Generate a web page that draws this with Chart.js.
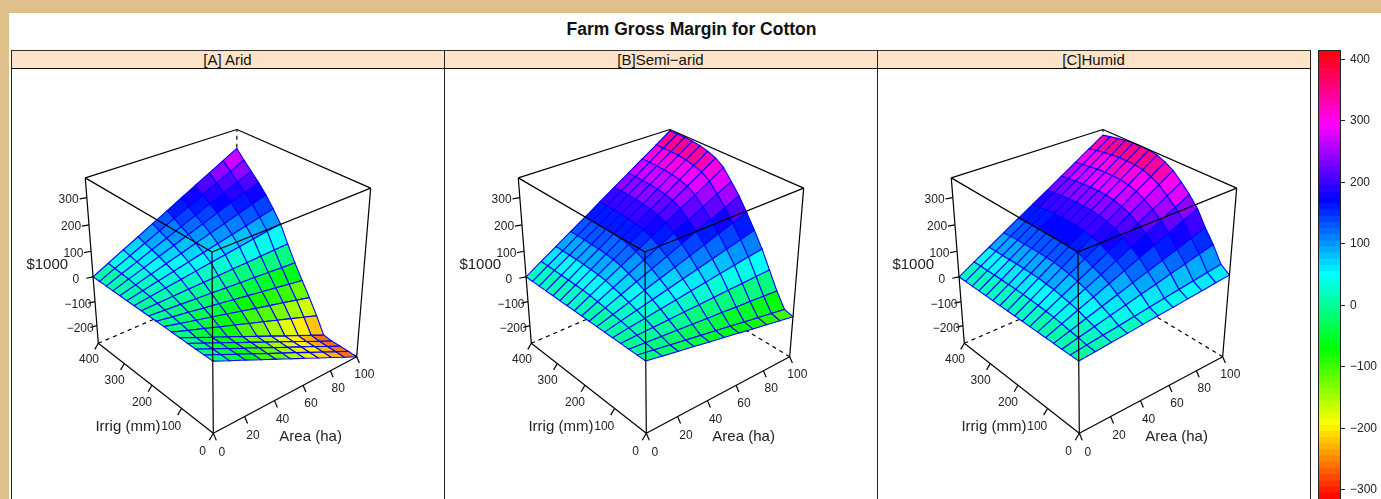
<!DOCTYPE html>
<html>
<head>
<meta charset="utf-8">
<title>Farm Gross Margin for Cotton</title>
<script src="https://cdn.jsdelivr.net/npm/chart.js@4"></script>
<style>
  html, body { margin: 0; padding: 0; width: 1381px; height: 499px; overflow: hidden; background: #dfc08a; }
  body { position: relative; font-family: "Liberation Sans", Arial, sans-serif; color: #111; }
  #sheet { position: absolute; left: 9px; top: 13px; width: 1372px; height: 486px; background: #fff; }
  #title { position: absolute; left: 0; top: 20px; width: 1383px; text-align: center; font-size: 17.5px; line-height: 18px; font-weight: bold; }
  .strip { position: absolute; top: 50px; height: 17px; width: 433px; box-sizing: content-box; background: #fde3c8; border-top: 1px solid #333; border-bottom: 1px solid #111; text-align: center; font-size: 15px; line-height: 18px; }
  .edge { position: absolute; top: 50px; width: 1px; height: 449px; background: #222; }
  canvas { position: absolute; }
</style>
</head>
<body>
<div id="sheet"></div>
<div id="title">Farm Gross Margin for Cotton</div>
<div class="strip" style="left:11px">[A] Arid</div>
<div class="strip" style="left:444px">[B]Semi−arid</div>
<div class="strip" style="left:877px">[C]Humid</div>
<div class="edge" style="left:11px"></div>
<div class="edge" style="left:444px"></div>
<div class="edge" style="left:877px"></div>
<div class="edge" style="left:1310px"></div>
<canvas id="panelA" width="433" height="430" style="left:12px;top:69px"></canvas>
<canvas id="panelB" width="433" height="430" style="left:445px;top:69px"></canvas>
<canvas id="panelC" width="433" height="430" style="left:878px;top:69px"></canvas>
<canvas id="colorKey" width="63" height="449" style="left:1318px;top:50px"></canvas>
<script>
const AREAS = [0, 10, 20, 30, 40, 50, 60, 70, 80, 90, 100];
const IRRIGS = [0, 25, 50, 75, 100, 125, 150, 175, 200, 225, 250, 275, 300, 325, 350, 375, 400];

// rows by area, columns by irrigation ($1000)
const aridMargin = [
  [0, 0, 0, 0, 0, 0, 0, 0, 0, 0, 0, 0, 0, 0, 0, 0, 0],
  [-28, -27, -27, -27, -27, -21, -15, -10, -4, 2, 9, 13, 17, 21, 24, 27, 30],
  [-55, -55, -55, -54, -54, -41, -30, -19, -8, 4, 17, 26, 34, 41, 47, 53, 60],
  [-83, -82, -82, -82, -80, -62, -44, -29, -12, 6, 26, 39, 51, 62, 71, 80, 89],
  [-110, -110, -109, -109, -107, -82, -59, -38, -16, 8, 34, 52, 68, 82, 94, 106, 119],
  [-138, -137, -137, -136, -134, -103, -74, -48, -20, 10, 43, 65, 85, 103, 118, 133, 149],
  [-165, -164, -164, -163, -161, -123, -89, -57, -24, 12, 51, 78, 102, 123, 141, 159, 179],
  [-193, -192, -191, -190, -188, -144, -104, -67, -28, 14, 60, 91, 119, 144, 165, 186, 209],
  [-220, -219, -218, -218, -214, -164, -118, -76, -32, 16, 68, 104, 136, 164, 188, 212, 238],
  [-248, -247, -246, -245, -241, -185, -133, -86, -36, 18, 77, 117, 153, 185, 212, 239, 268],
  [-275, -274, -273, -272, -268, -205, -148, -95, -40, 20, 85, 130, 170, 205, 235, 265, 298],
];
const semiAridMargin = [
  [0, 0, 0, 0, 0, 0, 0, 0, 0, 0, 0, 0, 0, 0, 0, 0, 0],
  [-11, -10, -5, 2, 9, 14, 19, 24, 28, 32, 34, 35, 36, 36, 37, 37, 37],
  [-22, -20, -9, 4, 17, 28, 38, 48, 56, 64, 68, 70, 72, 73, 73, 73, 73],
  [-33, -30, -14, 6, 26, 42, 58, 72, 84, 95, 102, 106, 108, 109, 110, 110, 110],
  [-44, -40, -18, 8, 34, 56, 77, 96, 112, 127, 136, 141, 144, 146, 146, 146, 146],
  [-55, -50, -23, 10, 43, 70, 96, 120, 140, 159, 170, 176, 180, 182, 183, 183, 183],
  [-66, -60, -27, 12, 51, 84, 115, 144, 168, 191, 204, 211, 216, 218, 220, 220, 220],
  [-77, -70, -32, 14, 60, 98, 134, 168, 196, 223, 238, 246, 252, 255, 256, 256, 256],
  [-88, -80, -36, 16, 68, 112, 154, 192, 224, 254, 272, 282, 288, 291, 293, 293, 293],
  [-99, -90, -41, 18, 77, 126, 173, 216, 252, 286, 306, 317, 324, 328, 329, 329, 329],
  [-110, -100, -45, 20, 85, 140, 192, 240, 280, 318, 340, 352, 360, 364, 366, 366, 366],
];
const humidMargin = [
  [0, 0, 0, 0, 0, 0, 0, 0, 0, 0, 0, 0, 0, 0, 0, 0, 0],
  [5, 8, 14, 18, 24, 28, 31, 33, 35, 36, 37, 37, 37, 37, 36, 36, 35],
  [11, 16, 27, 37, 48, 55, 61, 67, 70, 73, 74, 74, 74, 73, 72, 71, 70],
  [16, 23, 41, 55, 71, 83, 92, 100, 106, 109, 111, 111, 111, 110, 109, 107, 105],
  [22, 31, 54, 73, 95, 110, 122, 134, 141, 146, 148, 148, 148, 147, 145, 142, 140],
  [27, 39, 68, 92, 119, 138, 153, 167, 176, 182, 185, 186, 185, 184, 181, 178, 175],
  [32, 47, 81, 110, 143, 165, 184, 200, 211, 218, 222, 223, 222, 220, 217, 214, 209],
  [38, 55, 95, 128, 167, 193, 214, 234, 246, 255, 259, 260, 259, 257, 253, 249, 244],
  [43, 62, 108, 146, 190, 220, 245, 267, 282, 291, 296, 297, 296, 294, 290, 285, 279],
  [49, 70, 122, 165, 214, 248, 275, 301, 317, 328, 333, 334, 333, 330, 326, 320, 314],
  [54, 78, 135, 183, 238, 275, 306, 334, 352, 364, 370, 371, 370, 367, 362, 356, 349],
];

const areaTicks = [0, 20, 40, 60, 80, 100];
const irrigTicks = [0, 100, 200, 300, 400];
const marginTicks = [-200, -100, 0, 100, 200, 300];
const keyTicks = [-300, -200, -100, 0, 100, 200, 300, 400];
const keyBreaks = [
  -315, -305, -295, -285, -275, -265, -255, -245, -235, -225, -215, -205, -195, -185, -175, -165, -155,
  -145, -135, -125, -115, -105, -95, -85, -75, -65, -55, -45, -35, -25, -15, -5, 5, 15, 25, 35, 45, 55,
  65, 75, 85, 95, 105, 115, 125, 135, 145, 155, 165, 175, 185, 195, 205, 215, 225, 235, 245, 255, 265,
  275, 285, 295, 305, 315, 325, 335, 345, 355, 365, 375, 385, 395, 405, 415,
];

const AREA_LIM = [0, 100];
const IRRIG_LIM = [0, 400];
const MARGIN_LIM = [-275, 371];

// perspective camera, box coordinates (0..1) -> view units
const CAMERA_X = [183.4, -102.5, -22.8, 201.8];
const CAMERA_Y = [-43.2, -50.5, -200.9, 364.3];
const CAMERA_H = [0.116, 0.144, -0.107, 1];

// outward directions of the tick marks, in box coordinates
const IRRIG_TICK = [-0.0255, 0, -0.0294];
const AREA_TICK = [0, -0.0228, -0.0292];
const MARGIN_TICK = [-0.0424, 0, 0.0071];

const INK = "#000";
const GRID_BLUE = "#0000ff";

function project(u, v, w) {
  const dot = (c) => c[0] * u + c[1] * v + c[2] * w + c[3];
  const h = dot(CAMERA_H);
  return { x: dot(CAMERA_X) / h, y: dot(CAMERA_Y) / h };
}

const toU = (area) => (area - AREA_LIM[0]) / (AREA_LIM[1] - AREA_LIM[0]);
const toV = (irrig) => (irrig - IRRIG_LIM[0]) / (IRRIG_LIM[1] - IRRIG_LIM[0]);
const toW = (z) => (z - MARGIN_LIM[0]) / (MARGIN_LIM[1] - MARGIN_LIM[0]);

function levelColor(z) {
  let i = 0;
  while (i < keyBreaks.length - 2 && z >= keyBreaks[i + 1]) i++;
  const hue = ((i + 0.5) / (keyBreaks.length - 1)) * 360;
  return `hsl(${hue}, 100%, 50%)`;
}

function edgeDataset(from, to, dash) {
  return {
    data: [project(...from), project(...to)],
    showLine: true,
    pointRadius: 0,
    borderColor: INK,
    borderWidth: 1.2,
    borderDash: dash ? [4, 4] : [],
    fill: false,
  };
}

function cellDataset(margin, i, j) {
  const corners = [[i, j], [i + 1, j], [i + 1, j + 1], [i, j + 1], [i, j]];
  const zs = corners.slice(0, 4).map(([a, b]) => margin[a][b]);
  const mean = zs.reduce((s, z) => s + z, 0) / 4;
  return {
    data: corners.map(([a, b]) => project(toU(AREAS[a]), toV(IRRIGS[b]), toW(margin[a][b]))),
    showLine: true,
    pointRadius: 0,
    borderColor: GRID_BLUE,
    borderWidth: 1.1,
    backgroundColor: levelColor(mean),
    fill: "shape",
  };
}

function tickDataset(base, dir) {
  return edgeDataset(base, [base[0] + dir[0], base[1] + dir[1], base[2] + dir[2]], false);
}

function buildDatasets(margin) {
  const sets = [];
  // front of the box first: the first dataset ends up on top
  sets.push(edgeDataset([0, 0, 0], [0, 0, 1]));
  sets.push(edgeDataset([0, 0, 1], [1, 0, 1]));
  sets.push(edgeDataset([0, 0, 1], [0, 1, 1]));
  sets.push(edgeDataset([1, 0, 1], [1, 1, 1]));
  sets.push(edgeDataset([0, 1, 1], [1, 1, 1]));
  sets.push(edgeDataset([1, 0, 0], [1, 0, 1]));
  sets.push(edgeDataset([0, 1, 0], [0, 1, 1]));
  sets.push(edgeDataset([0, 0, 0], [1, 0, 0]));
  sets.push(edgeDataset([0, 0, 0], [0, 1, 0]));
  irrigTicks.forEach((t) => sets.push(tickDataset([0, toV(t), 0], IRRIG_TICK)));
  areaTicks.forEach((t) => sets.push(tickDataset([toU(t), 0, 0], AREA_TICK)));
  marginTicks.forEach((t) => sets.push(tickDataset([0, 1, toW(t)], MARGIN_TICK)));

  for (let i = 0; i < AREAS.length - 1; i++) {
    for (let j = 0; j < IRRIGS.length - 1; j++) {
      sets.push(cellDataset(margin, i, j));
    }
  }

  // hidden back edges stay behind the surface
  sets.push(edgeDataset([1, 1, 0], [1, 1, 1], true));
  sets.push(edgeDataset([0, 1, 0], [1, 1, 0], true));
  sets.push(edgeDataset([1, 0, 0], [1, 1, 0], true));
  return sets;
}

function signed(v) {
  return v < 0 ? "\u2212" + Math.abs(v) : String(v);
}

const axisText = {
  id: "axisText",
  afterDraw(chart) {
    const { ctx, scales } = chart;
    const put = (text, u, v, w, dir, k, size) => {
      const p = project(u + dir[0] * k, v + dir[1] * k, w + dir[2] * k);
      ctx.font = `${size}px "Liberation Sans", Arial, sans-serif`;
      ctx.fillText(text, scales.x.getPixelForValue(p.x), scales.y.getPixelForValue(p.y));
    };
    ctx.save();
    ctx.fillStyle = "#222";
    ctx.textAlign = "center";
    ctx.textBaseline = "middle";
    irrigTicks.forEach((t) => put(signed(t), 0, toV(t), 0, IRRIG_TICK, 2.65, 12));
    areaTicks.forEach((t) => put(signed(t), toU(t), 0, 0, AREA_TICK, 2.8, 12));
    marginTicks.forEach((t) => put(signed(t), 0, 1, toW(t) + 0.006, MARGIN_TICK, 2.5, 12));
    put("Irrig (mm)", 0, 0.5, 0, IRRIG_TICK, 6.4, 15);
    put("Area (ha)", 0.515, 0, 0, AREA_TICK, 6.8, 15);
    put("$1000", 0, 1, 0.55, MARGIN_TICK, 6.2, 15);
    ctx.restore();
  },
};

function renderPanel(canvasId, margin) {
  new Chart(document.getElementById(canvasId), {
    type: "scatter",
    data: { datasets: buildDatasets(margin) },
    options: {
      responsive: false,
      animation: false,
      events: [],
      layout: { padding: 0 },
      plugins: { legend: { display: false }, tooltip: { enabled: false } },
      scales: {
        x: { type: "linear", display: false, min: 0.5, max: 433.5 },
        y: { type: "linear", display: false, min: 0, max: 430, reverse: true },
      },
    },
    plugins: [axisText],
  });
}

const keyFrame = {
  id: "keyFrame",
  afterDraw(chart) {
    const { ctx, chartArea: a } = chart;
    ctx.save();
    ctx.strokeStyle = "#222";
    ctx.lineWidth = 1;
    ctx.strokeRect(a.left + 0.5, a.top + 0.5, a.right - a.left, a.bottom - a.top);
    ctx.restore();
  },
};

function renderColorKey() {
  const datasets = keyBreaks.slice(0, -1).map((lo, i) => ({
    data: [[lo, keyBreaks[i + 1]]],
    backgroundColor: levelColor(lo + 0.1),
    barPercentage: 1,
    categoryPercentage: 1,
    grouped: false,
  }));
  new Chart(document.getElementById("colorKey"), {
    type: "bar",
    data: { labels: [""], datasets },
    options: {
      responsive: false,
      animation: false,
      events: [],
      layout: { padding: 0 },
      plugins: { legend: { display: false }, tooltip: { enabled: false } },
      scales: {
        x: { display: false },
        y: {
          position: "right",
          min: keyBreaks[0],
          max: keyBreaks[keyBreaks.length - 1],
          afterBuildTicks: (axis) => { axis.ticks = keyTicks.map((value) => ({ value })); },
          afterFit: (axis) => {
            axis.width = 41;
            axis.paddingTop = 0;
            axis.paddingBottom = 0;
          },
          grid: { drawOnChartArea: false, tickLength: 5, color: "#222" },
          border: { display: false },
          ticks: {
            callback: (v) => signed(v),
            color: "#222",
            padding: 5,
            font: { family: '"Liberation Sans", Arial, sans-serif', size: 12 },
          },
        },
      },
    },
    plugins: [keyFrame],
  });
}

renderPanel("panelA", aridMargin);
renderPanel("panelB", semiAridMargin);
renderPanel("panelC", humidMargin);
renderColorKey();
</script>
</body>
</html>
